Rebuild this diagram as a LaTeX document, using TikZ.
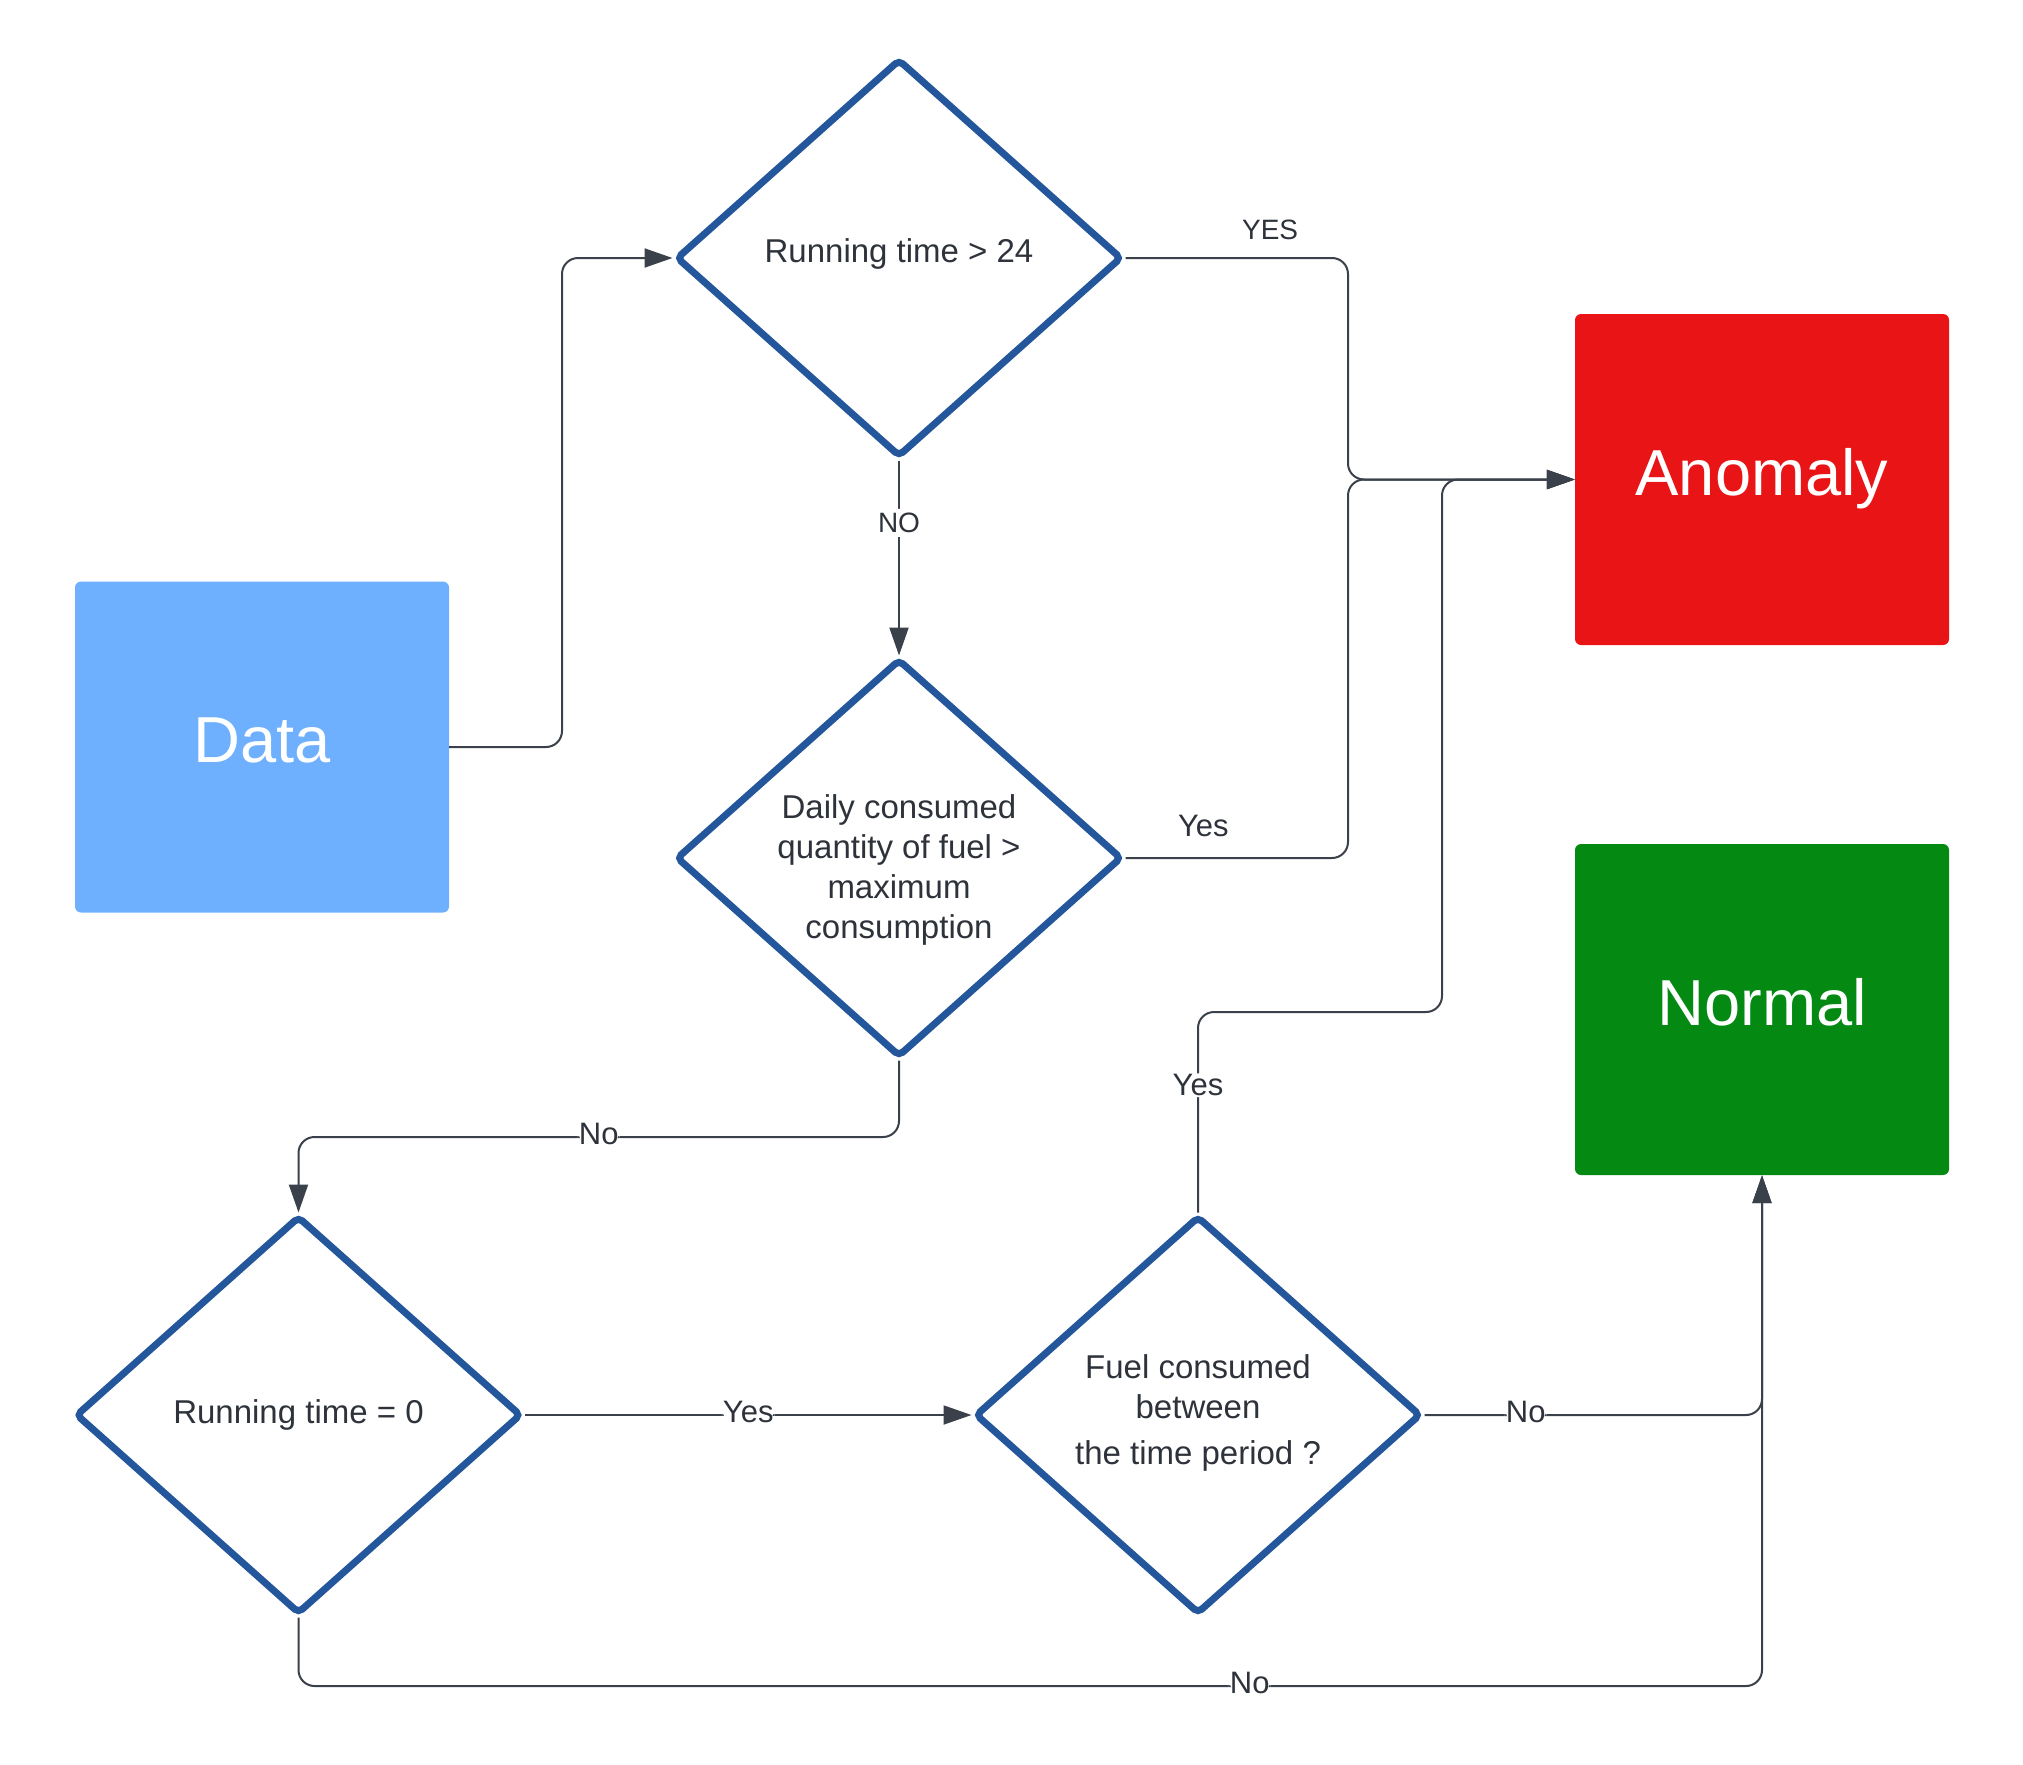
\documentclass[tikz,border=0pt]{standalone}
\usepackage{fontspec}
\setmainfont{Liberation Sans}
\usetikzlibrary{shapes.geometric,arrows.meta}
\definecolor{dblue}{HTML}{23569A}
\definecolor{dataC}{HTML}{6EB0FE}
\definecolor{anomC}{HTML}{E81416}
\definecolor{normC}{HTML}{048A12}
\definecolor{lineC}{HTML}{3A414A}
\definecolor{txtC}{HTML}{2E323A}
\begin{document}
\begin{tikzpicture}[x=1pt,y=-1pt,
 box/.style={rectangle, rounded corners=6pt, minimum width=374pt, minimum height=331pt, text=white, font=\fontsize{65}{78}\selectfont, inner sep=0pt, text height=47pt, text depth=15.5pt},
 dec/.style={diamond, draw=dblue, line width=7pt, rounded corners=5pt, minimum width=446pt, minimum height=398pt, inner sep=0pt, fill=white},
 dtext/.style={text=txtC, font=\fontsize{33}{40}\selectfont, align=center},
 conn/.style={draw=lineC, line width=2pt, rounded corners=16pt},
 arr/.style={-{Triangle[length=28pt,width=19pt]}},
 lbl/.style={fill=white, text=txtC, font=\fontsize{31}{36}\selectfont, inner sep=1pt, yshift=3pt},
 toplbl/.style={text=txtC, font=\fontsize{28}{34}\selectfont, inner sep=1pt},
 sidelbl/.style={text=txtC, font=\fontsize{31}{36}\selectfont, inner sep=0pt},
]
\useasboundingbox (0,0) rectangle (2023,1764);

% boxes
\node[box, fill=dataC] (data) at (262,747) {Data};
\node[box, fill=anomC] (anom) at (1762,479.5) {Anomaly};
\node[box, fill=normC] (norm) at (1762,1009.5) {Normal};

% decisions
\node[dec] (d1) at (899,258) {};
\node[dec] (d2) at (899,858) {};
\node[dec] (d3) at (298.5,1415) {};
\node[dec] (d4) at (1198,1415) {};

\node[dtext] (t1) at (899,254) {Running time > 24};
\node[dtext] (t2) at (899,870) {Daily consumed\\quantity of fuel >\\maximum\\consumption};
\node[dtext] (t3) at (298.5,1415) {Running time = 0};
\node[dtext] (t4) at (1198,1413) {Fuel consumed\\between\\[6pt]the time period ?};

% helper coordinates
\coordinate (busA) at (1348,479.5);
\coordinate (busB) at (1442,479.5);
\coordinate (cx) at (562,0);
\coordinate (r1) at (0,1137);
\coordinate (r2) at (0,1012);
\coordinate (r3) at (0,1686);

% connectors
\draw[conn,arr] (data.east) -| (cx |- d1.west) -- (d1.west);
\draw[conn,arr] (d1.east) -- node[toplbl, above=17pt, inner sep=0pt, pos=0.65]{YES} (busA |- d1.east) -- (busA) -- (anom.west);
\draw[conn,arr] (d2.east) -- node[sidelbl, above=20pt, pos=0.35]{Yes} (busA |- d2.east) -- (busA) -- (anom.west);
\draw[conn,arr] (d4.north) -- node[lbl, pos=0.62]{Yes} (d4.north |- r2) -- (busB |- r2) -- (busB) -- (anom.west);
\draw[conn,arr] (d1.south) -- node[toplbl, fill=white, inner sep=4pt, pos=0.32]{NO} (d2.north);
\draw[conn,arr] (d2.south) -- (d2.south |- r1) -- node[lbl, pos=0.5]{No} (d3.north |- r1) -- (d3.north);
\draw[conn,arr] (d3.east) -- node[lbl, pos=0.5]{Yes} (d4.west);
\draw[conn,arr] (d4.east) -- node[lbl, pos=0.3]{No} (norm.south |- d4.east) -- (norm.south);
\draw[conn,arr] (d3.south) -- (d3.south |- r3) -- node[lbl, pos=0.65]{No} (norm.south |- r3) -- (norm.south);
\end{tikzpicture}
\end{document}
